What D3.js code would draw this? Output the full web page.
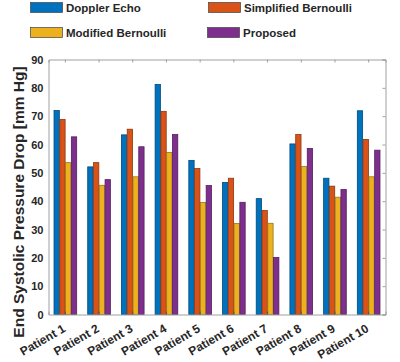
<!DOCTYPE html>
<html><head><meta charset="utf-8">
<script src="https://cdn.jsdelivr.net/npm/d3@7"></script>
<style>body{margin:0;background:#fff;} svg{display:block;font-family:"Liberation Sans",Arial,sans-serif;}</style>
</head><body>
<svg id="c" width="400" height="362"></svg>
<script>
const categories = ["Patient 1","Patient 2","Patient 3","Patient 4","Patient 5","Patient 6","Patient 7","Patient 8","Patient 9","Patient 10"];
const seriesNames = ["Doppler Echo","Simplified Bernoulli","Modified Bernoulli","Proposed"];
const dopplerEcho = [72.0, 52.1, 63.4, 81.2, 54.4, 46.6, 40.9, 60.2, 48.1, 71.9];
const simplifiedBernoulli = [68.8, 53.6, 65.4, 71.7, 51.5, 48.1, 36.7, 63.5, 45.3, 61.8];
const modifiedBernoulli = [53.6, 45.6, 48.6, 57.2, 39.5, 32.1, 32.2, 52.2, 41.4, 48.6];
const proposed = [62.7, 47.6, 59.2, 63.5, 45.5, 39.6, 20.1, 58.6, 44.1, 58.0];
const yTicks = [0,10,20,30,40,50,60,70,80,90];
const colors = ["#0072BD","#D95319","#EDB120","#7E2F8E"];
const seriesData = [dopplerEcho, simplifiedBernoulli, modifiedBernoulli, proposed];

const svg = d3.select("#c");
const m = {l:48.5, r:385.5, t:59.5, b:314.5};
const x = d3.scaleBand().domain(categories).range([m.l, m.r]).paddingInner(0).paddingOuter(0);
const xs = d3.scaleBand().domain(d3.range(4)).range([0, x.bandwidth()*0.7]).padding(0.08);
const y = d3.scaleLinear().domain([0,90]).range([m.b, m.t]);
const axisColor = "#a0a0a0";

// bars
const g = svg.append("g");
categories.forEach((c,i)=>{
  const off = x(c) + x.bandwidth()*0.15;
  seriesData.forEach((s,k)=>{
    g.append("rect")
      .attr("x", off + xs(k))
      .attr("y", y(s[i]))
      .attr("width", xs.bandwidth())
      .attr("height", y(0)-y(s[i]))
      .attr("fill", colors[k])
      .attr("stroke", d3.color(colors[k]).darker(1.2))
      .attr("stroke-width", 0.8);
  });
});

// axes
const tickCol = "#262626";
const yAxis = svg.append("g").attr("transform",`translate(${m.l},0)`)
  .call(d3.axisLeft(y).tickValues(yTicks).tickSize(0).tickPadding(5).tickFormat(d3.format("d")));
yAxis.select(".domain").attr("stroke", axisColor);
yAxis.selectAll("text").attr("fill", tickCol).attr("font-size", 11).attr("font-weight","bold");

const yRight = svg.append("g").attr("transform",`translate(${m.r},0)`)
  .call(d3.axisLeft(y).tickValues(yTicks).tickSize(3).tickFormat(""));
yRight.selectAll("line").attr("stroke", axisColor);
yRight.select(".domain").attr("stroke", axisColor);

const xAxis = svg.append("g").attr("transform",`translate(0,${m.b})`)
  .call(d3.axisBottom(x).tickSize(-3).tickFormat(""));
xAxis.select(".domain").attr("stroke", axisColor);
xAxis.selectAll("line").attr("stroke", "#555");
const xTop = svg.append("g").attr("transform",`translate(0,${m.t})`)
  .call(d3.axisTop(x).tickSize(-3).tickFormat(""));
xTop.select(".domain").attr("stroke", axisColor);
xTop.selectAll("line").attr("stroke", axisColor);

// x labels rotated
svg.append("g").selectAll("text").data(categories).join("text")
  .attr("transform", d=>`translate(${x(d)+x.bandwidth()/2+1},${m.b+16.5}) rotate(-30)`)
  .attr("text-anchor","end")
  .attr("font-size",12).attr("font-weight","bold").attr("fill",tickCol)
  .text(d=>d);

// y label
svg.append("text")
  .attr("transform",`translate(23.5,202) rotate(-90)`)
  .attr("text-anchor","middle")
  .attr("font-size",15.5).attr("font-weight","bold").attr("fill",tickCol)
  .text("End Systolic Pressure Drop [mm Hg]");

// legend
const legPos = [[30,2],[208,2],[30,27],[207,27]];
seriesNames.forEach((n,k)=>{
  const [lx,ly] = legPos[k];
  svg.append("rect").attr("x",lx+0.5).attr("y",ly+0.5).attr("width",32).attr("height",10)
    .attr("fill",colors[k]).attr("stroke","#444").attr("stroke-width",0.7);
  svg.append("text").attr("x",lx+36).attr("y",ly+9.5)
    .attr("font-size",11.5).attr("font-weight","bold").attr("fill",tickCol).text(n);
});
</script>
</body></html>
